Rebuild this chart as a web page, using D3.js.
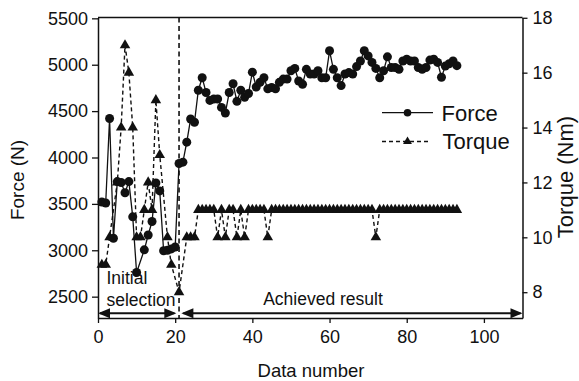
<!DOCTYPE html>
<html>
<head>
<meta charset="utf-8">
<script src="https://cdn.jsdelivr.net/npm/d3@7"></script>
<style>
  html, body { margin: 0; padding: 0; background: #fff; }
  svg { display: block; font-family: "Liberation Sans", Arial, Helvetica, sans-serif; }
</style>
</head>
<body>
<svg id="chart" width="579" height="381"></svg>
<script>
// ---- data ----------------------------------------------------------------
const forceNo = [1,2,3,4,5,6,7,8,9,10,12,13,14,15,16,17,18,19,20,21,22,23,24,25,26,27,28,29,30,
  31,32,33,34,35,36,37,38,39,40,41,42,43,44,45,46,47,48,49,50,51,52,53,54,55,56,57,58,59,60,
  61,62,63,64,65,66,67,68,69,70,71,72,73,74,75,76,77,78,79,80,81,82,83,84,85,86,87,88,89,90,
  91,92,93];
const forceN = [3520,3510,4420,3130,3740,3730,3620,3740,3360,2760,3005,3165,3310,3725,3640,2995,3000,3015,3035,3935,3950,4165,4415,4380,4725,4860,4700,4615,4630,
  4630,4540,4480,4700,4795,4605,4725,4650,4690,4920,4760,4810,4860,4740,4755,4740,4810,4845,4845,4935,4960,4825,4790,4950,4900,4900,4935,4860,4860,5150,
  4950,4860,4775,4900,4915,4900,4980,5040,5150,5095,5025,4960,4860,4935,5085,4970,4970,4950,5040,5060,5040,5040,4970,4950,4970,5050,5060,5025,4865,4985,
  5010,5040,4990];

const torqueNo = [1,2,3,5,6,7,8,9,10,11,12,13,14,15,16,18,19,21,23,24,25,26,27,28,29,30,
  31,32,33,34,35,36,37,38,39,40,41,42,43,44,45,46,47,48,49,50,51,52,53,54,55,56,57,58,59,60,
  61,62,63,64,65,66,67,68,69,70,71,72,73,74,75,76,77,78,79,80,81,82,83,84,85,86,87,88,89,90,
  91,92,93];
const torqueNm = [9,9,10,12,14,17,16,14,10,10,11,12,11,15,13,10,9,8,10,10,10,11,11,11,11,11,
  10,11,10,11,11,10,11,10,11,11,11,11,11,10,11,11,11,11,11,11,11,11,11,11,11,11,11,11,11,11,
  11,11,11,11,11,11,11,11,11,11,11,10,11,11,11,11,11,11,11,11,11,11,11,11,11,11,11,11,11,11,
  11,11,11];

const xTicks = [0, 20, 40, 60, 80, 100];
const forceTicks = [2500, 3000, 3500, 4000, 4500, 5000, 5500];
const torqueTicks = [8, 10, 12, 14, 16, 18];

// phases along the data-number axis
const phaseSplit = 21;
const phaseFrom = [0, 21.6];
const phaseTo = [20.3, 110];
const phaseText = [["Initial", "selection"], ["Achieved result"]];

// ---- layout --------------------------------------------------------------
const svg = d3.select("#chart");
const L = 98, R = 522.5, T = 17.5, B = 318;
const ink = "#111";

const x = d3.scaleLinear().domain([0, 110]).range([L, R]);
const yF = d3.scaleLinear().domain([2270, 5509]).range([B, T]);
const yT = d3.scaleLinear().domain([7.06, 18.01]).range([B, T]);

// ---- axes ----------------------------------------------------------------
function styleAxis(g) {
  g.selectAll(".domain").attr("stroke", ink).attr("stroke-width", 1.5);
  g.selectAll(".tick line").attr("stroke", ink).attr("stroke-width", 1.3);
  g.selectAll(".tick text").attr("fill", ink).style("font-size", "18px")
    .style("font-family", '"Liberation Sans", Arial, sans-serif');
}

svg.append("g").attr("transform", `translate(${L},0)`)
  .call(d3.axisLeft(yF).tickValues(forceTicks).tickFormat(d3.format("d"))
    .tickSize(6).tickSizeOuter(0).tickPadding(4))
  .call(styleAxis);

svg.append("g").attr("transform", `translate(${R},0)`)
  .call(d3.axisRight(yT).tickValues(torqueTicks).tickFormat(d3.format("d"))
    .tickSize(5).tickSizeOuter(0).tickPadding(5))
  .call(styleAxis);

svg.append("g").attr("transform", `translate(0,${B})`)
  .call(d3.axisBottom(x).tickValues(xTicks).tickFormat(d3.format("d"))
    .tickSize(5).tickSizeOuter(0).tickPadding(7))
  .call(styleAxis);

// top edge of the frame
svg.append("line").attr("x1", L).attr("x2", R).attr("y1", T).attr("y2", T)
  .attr("stroke", ink).attr("stroke-width", 1.5);

// axis titles
svg.append("text").attr("transform", "translate(24,180) rotate(-90)")
  .attr("text-anchor", "middle").style("font-size", "19px").attr("fill", ink)
  .text("Force (N)");
svg.append("text").attr("transform", "translate(573,177) rotate(-90)")
  .attr("text-anchor", "middle").style("font-size", "22px").attr("fill", ink)
  .text("Torque (Nm)");
svg.append("text").attr("x", 311).attr("y", 377)
  .attr("text-anchor", "middle").style("font-size", "18.5px").attr("fill", ink)
  .text("Data number");

// ---- phase annotations ---------------------------------------------------
svg.append("line")
  .attr("x1", x(phaseSplit)).attr("x2", x(phaseSplit)).attr("y1", T).attr("y2", B)
  .attr("stroke", ink).attr("stroke-width", 1.6).attr("stroke-dasharray", "5,3.5");

const arrowY = 313.3;
const head = 12, half = 5;
phaseFrom.forEach((f, i) => {
  const a = x(f), b = x(phaseTo[i]);
  svg.append("line").attr("x1", a + 2).attr("x2", b - 2).attr("y1", arrowY).attr("y2", arrowY)
    .attr("stroke", ink).attr("stroke-width", 2);
  svg.append("path")
    .attr("d", `M${a},${arrowY}L${a + head},${arrowY - half}L${a + head},${arrowY + half}Z`)
    .attr("fill", ink);
  svg.append("path")
    .attr("d", `M${b},${arrowY}L${b - head},${arrowY - half}L${b - head},${arrowY + half}Z`)
    .attr("fill", ink);
});

svg.append("text").attr("x", 106.5).attr("y", 283.5).style("font-size", "17.5px").attr("fill", ink)
  .text(phaseText[0][0]);
svg.append("text").attr("x", 106.5).attr("y", 306).style("font-size", "17.5px").attr("fill", ink)
  .text(phaseText[0][1]);
svg.append("text").attr("x", 323).attr("y", 305).attr("text-anchor", "middle")
  .style("font-size", "17.5px").attr("fill", ink).text(phaseText[1][0]);

// ---- series --------------------------------------------------------------
const torquePts = torqueNo.map((d, i) => [d, torqueNm[i]]);
const forcePts = forceNo.map((d, i) => [d, forceN[i]]);

const triangle = d3.symbol().type(d3.symbolTriangle).size(48);

svg.append("path").datum(torquePts)
  .attr("d", d3.line().x(d => x(d[0])).y(d => yT(d[1])))
  .attr("fill", "none").attr("stroke", ink).attr("stroke-width", 1.4)
  .attr("stroke-dasharray", "4,3");
svg.append("g").selectAll("path").data(torquePts).join("path")
  .attr("transform", d => `translate(${x(d[0])},${yT(d[1])})`)
  .attr("d", triangle).attr("fill", ink);

svg.append("path").datum(forcePts)
  .attr("d", d3.line().x(d => x(d[0])).y(d => yF(d[1])))
  .attr("fill", "none").attr("stroke", ink).attr("stroke-width", 1.3);
svg.append("g").selectAll("circle").data(forcePts).join("circle")
  .attr("cx", d => x(d[0])).attr("cy", d => yF(d[1])).attr("r", 4.5).attr("fill", ink);

// ---- legend --------------------------------------------------------------
const lg = svg.append("g");
lg.append("line").attr("x1", 382).attr("x2", 433).attr("y1", 112.7).attr("y2", 112.7)
  .attr("stroke", ink).attr("stroke-width", 1.3);
lg.append("circle").attr("cx", 407.5).attr("cy", 112.7).attr("r", 3.8).attr("fill", ink);
lg.append("text").attr("x", 441.5).attr("y", 121.3).style("font-size", "22px").attr("fill", ink)
  .text("Force");
lg.append("line").attr("x1", 382).attr("x2", 428).attr("y1", 141.5).attr("y2", 141.5)
  .attr("stroke", ink).attr("stroke-width", 1.4).attr("stroke-dasharray", "4,3");
lg.append("path").attr("transform", "translate(407.5,141.5)")
  .attr("d", d3.symbol().type(d3.symbolTriangle).size(34)).attr("fill", ink);
lg.append("text").attr("x", 442.5).attr("y", 148.5).style("font-size", "22px").attr("fill", ink)
  .text("Torque");
</script>
</body>
</html>
